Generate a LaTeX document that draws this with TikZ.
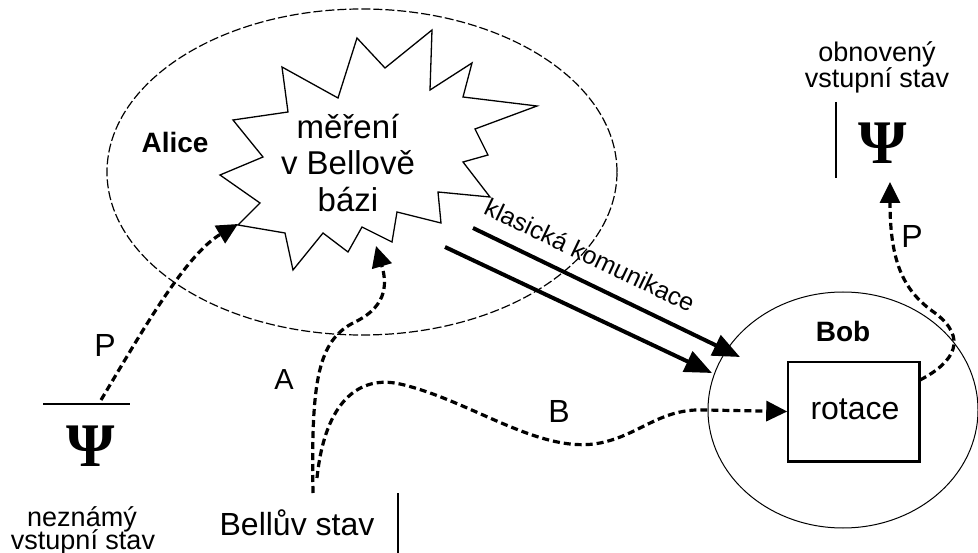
\documentclass[tikz,border=0pt]{standalone}
\usepackage{fontspec}
\setmainfont{Liberation Sans}
\newfontfamily\psifont{Liberation Serif}
\usetikzlibrary{arrows.meta,shapes.geometric}
\begin{document}
\begin{tikzpicture}[x=1pt,y=-1pt,
  lbl/.style={font=\fontsize{#1}{#1}\selectfont, inner sep=0pt, anchor=base},
  blbl/.style={font=\fontsize{#1}{#1}\selectfont\bfseries, inner sep=0pt, anchor=base},
  psi/.style={font=\fontsize{62}{62}\selectfont\psifont\bfseries, inner sep=0pt},
  qarrow/.style={line width=3.2pt, dash pattern=on 7pt off 4pt, -{Triangle[length=21pt,width=20pt]}},
  carrow/.style={line width=4pt, -{Triangle[length=27pt,width=22pt]}},
  thinline/.style={line width=1.5pt}
]
\useasboundingbox (0,0) rectangle (978,553);

% Alice and Bob regions
\node[ellipse, draw, line width=1.2pt, dash pattern=on 9pt off 3pt, minimum width=510pt, minimum height=326pt, inner sep=0pt, outer sep=0pt] (alice) at (362,172) {};
\node[ellipse, draw, line width=1pt, minimum width=270pt, minimum height=236pt, inner sep=0pt, outer sep=0pt] (bob) at (843,410) {};

% measurement starburst
\draw[line width=1.3pt, fill=white] (282,67) -- (338,98) -- (357,38) -- (385,68) -- (432,30) -- (430,90) -- (472,63) -- (463,97) -- (537,106) -- (475,129) -- (488,155) -- (463,162) -- (490,197) -- (438,192) -- (441,223) -- (397,212) -- (392,242) -- (362,227) -- (348,252) -- (323,233) -- (293,270) -- (285,233) -- (238,225) -- (260,203) -- (220,175) -- (263,157) -- (233,120) -- (288,112) -- cycle;
\coordinate (tipSW) at (238,224);
\coordinate (tipS) at (376,246);
\node[font=\fontsize{33}{36.5}\selectfont, align=center, inner sep=0pt] (meas) at (348,163) {měření\\v Bellově\\bázi};

\node[blbl=28] (alicelbl) at (175,153) {Alice};
\node[blbl=28] (boblbl) at (843,342) {Bob};

% rotation box
\node[draw, line width=1.5pt, minimum width=131pt, minimum height=99pt, inner sep=0pt] (rot) at (853.5,411.5) {};
\draw[line width=3pt] (rot.north east) -- (rot.south east) -- (rot.south west);
\node[lbl=32] (rotlbl) at (855,420) {rotace};

% input state (left)
\node[psi] (psiL) at (91,446) {Ψ};
\coordinate (barLa) at (43,404);
\coordinate (barLb) at (130,404);
\draw[thinline] (barLa) -- (barLb);
\node[lbl=27] (unk1) at (82,526) {neznámý};
\node[lbl=27] (unk2) at (83,549) {vstupní stav};
\coordinate (pL0) at (101,400);

% output state (right)
\node[psi] (psiR) at (883,143) {Ψ};
\coordinate (barRa) at (836,102);
\coordinate (barRb) at (836,178);
\draw[thinline] (barRa) -- (barRb);
\node[lbl=27] (out1) at (877,62) {obnovený};
\node[lbl=27] (out2) at (877,88) {vstupní stav};
\coordinate (pR1) at (890,182);
\coordinate (rotE) at (920,380);

% Bell state
\node[lbl=32] (bell) at (297,535) {Bellův stav};
\coordinate (barBa) at (398,493);
\coordinate (barBb) at (398,553);
\draw[thinline] (barBa) -- (barBb);
\coordinate (bellA) at (313,493);
\coordinate (bellB) at (317,478);

% quantum channels
\draw[qarrow] (pL0) .. controls (140,335) and (185,255) .. (tipSW);
\draw[qarrow] (bellA) .. controls (311,380) and (318,340) .. (355,322) .. controls (390,305) and (386,280) .. (tipS);
\draw[qarrow] (bellB) .. controls (325,400) and (360,375) .. (400,384) .. controls (470,400) and (540,455) .. (600,443) .. controls (640,435) and (660,408) .. (705,410) -- (rot.west);
\draw[qarrow] (rotE) .. controls (955,362) and (968,338) .. (935,313) .. controls (905,292) and (890,265) .. (pR1);

\node[lbl=32] (pLl) at (105,357) {P};
\node[lbl=29] (al) at (284,390) {A};
\node[lbl=32] (bl) at (559,423) {B};
\node[lbl=32] (pRl) at (912,248) {P};

% classical communication
\coordinate (c1s) at (473,228);
\coordinate (c1e) at (740,357);
\coordinate (c2s) at (445,247);
\coordinate (c2e) at (712,373);
\draw[carrow] (c1s) -- (c1e);
\draw[carrow] (c2s) -- (c2e);
\node[font=\fontsize{25}{25}\selectfont, inner sep=0pt, rotate=-25.5] (klas) at (590,255) {klasická komunikace};
\end{tikzpicture}
\end{document}
